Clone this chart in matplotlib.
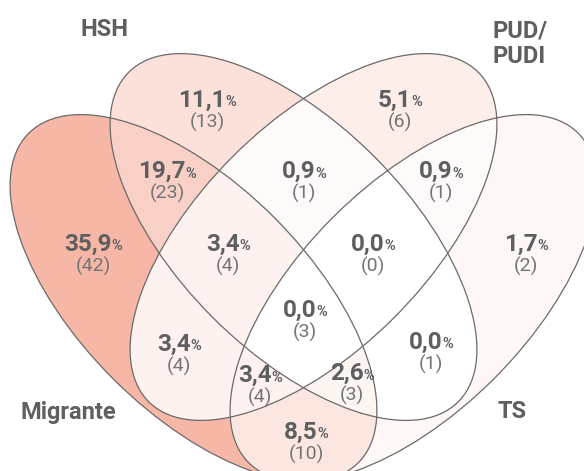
import numpy as np
import matplotlib.pyplot as plt
from matplotlib.patches import Ellipse
from matplotlib.colors import LinearSegmentedColormap, PowerNorm
from matplotlib.offsetbox import TextArea, HPacker, AnnotationBbox

# sets, in bit order M, H, P, T
set_names = ['Migrante', 'HSH', 'PUD/\nPUDI', 'TS']
set_keys = ['M', 'H', 'P', 'T']

# regions of the diagram (letters = sets the region belongs to)
regions = ['M', 'H', 'P', 'T', 'MH', 'HP', 'PT', 'MHP', 'HPT',
           'MHPT', 'MP', 'HT', 'MPT', 'MHT', 'MT']
pcts = [35.9, 11.1, 5.1, 1.7, 19.7, 0.9, 0.9, 3.4, 0.0,
        0.0, 3.4, 0.0, 3.4, 2.6, 8.5]
counts = [42, 13, 6, 2, 23, 1, 1, 4, 0,
          3, 4, 1, 4, 3, 10]

# layout (pixels, y down)
W, H = 584, 471
semi_a, semi_b = 233, 114
ell_centers = [(193.5, 298), (293.5, 237), (313.5, 237), (413.5, 298)]
ell_angles = [45, 45, -45, -45]
label_xy = [(93, 244), (207, 100), (400, 100), (526, 244), (167, 171),
            (304, 171), (441, 171), (228, 244), (373, 244), (305, 310),
            (179, 344), (431, 342), (260, 375), (352, 373), (306, 432)]
name_xy = [(20, 412), (80, 29), (492, 44), (497, 412)]

dark = '#5e5f61'
light = '#737476'
line_col = '#6a6a6a'

fig = plt.figure(figsize=(W / 100, H / 100), dpi=100)
ax = fig.add_axes([0, 0, 1, 1])
ax.set_xlim(0, W)
ax.set_ylim(H, 0)
ax.axis('off')


def inside(x, y, c, ang):
    t = np.deg2rad(ang)
    dx, dy = x - c[0], y - c[1]
    u = dx * np.cos(t) + dy * np.sin(t)
    v = -dx * np.sin(t) + dy * np.cos(t)
    return (u / semi_a) ** 2 + (v / semi_b) ** 2 <= 1


# value grid for the region fills
xs = np.arange(0, W, 0.5) + 0.25
ys = np.arange(0, H, 0.5) + 0.25
gx, gy = np.meshgrid(xs, ys)
code = np.zeros(gx.shape, dtype=int)
for i in range(4):
    code += inside(gx, gy, ell_centers[i], ell_angles[i]).astype(int) << i

lookup = np.zeros(16)
for r, p in zip(regions, pcts):
    bits = sum(1 << set_keys.index(ch) for ch in r)
    lookup[bits] = p
vals = lookup[code]

cmap = LinearSegmentedColormap.from_list('venn', ['#ffffff', '#f7b7a6'])
ax.imshow(vals, cmap=cmap, norm=PowerNorm(0.75, vmin=0, vmax=max(pcts)),
          extent=(0, W, H, 0), origin='upper', interpolation='nearest')

for c, ang in zip(ell_centers, ell_angles):
    ax.add_patch(Ellipse(c, 2 * semi_a, 2 * semi_b, angle=ang, fill=False,
                         edgecolor=line_col, linewidth=0.9))

for (x, y), p, n in zip(label_xy, pcts, counts):
    num = TextArea(f"{p:.1f}".replace('.', ','),
                   textprops=dict(fontsize=17.5, fontweight='bold',
                                  color=dark, family='Roboto'))
    pc = TextArea('%', textprops=dict(fontsize=10.5, fontweight='bold',
                                      color=dark, family='Roboto'))
    box = HPacker(children=[num, pc], align='baseline', pad=0, sep=0)
    ax.add_artist(AnnotationBbox(box, (x, y), frameon=False, pad=0,
                                 box_alignment=(0.5, 0.5)))
    ax.text(x, y + 22, f"({n})", ha='center', va='center', fontsize=14,
            fontweight='normal', color=light, family='Roboto')

for (x, y), name in zip(name_xy, set_names):
    ax.text(x, y, name, ha='left', va='center', fontsize=17,
            fontweight='bold', color=dark, family='Roboto',
            linespacing=1.15)

fig.savefig('out.png', dpi=100)
